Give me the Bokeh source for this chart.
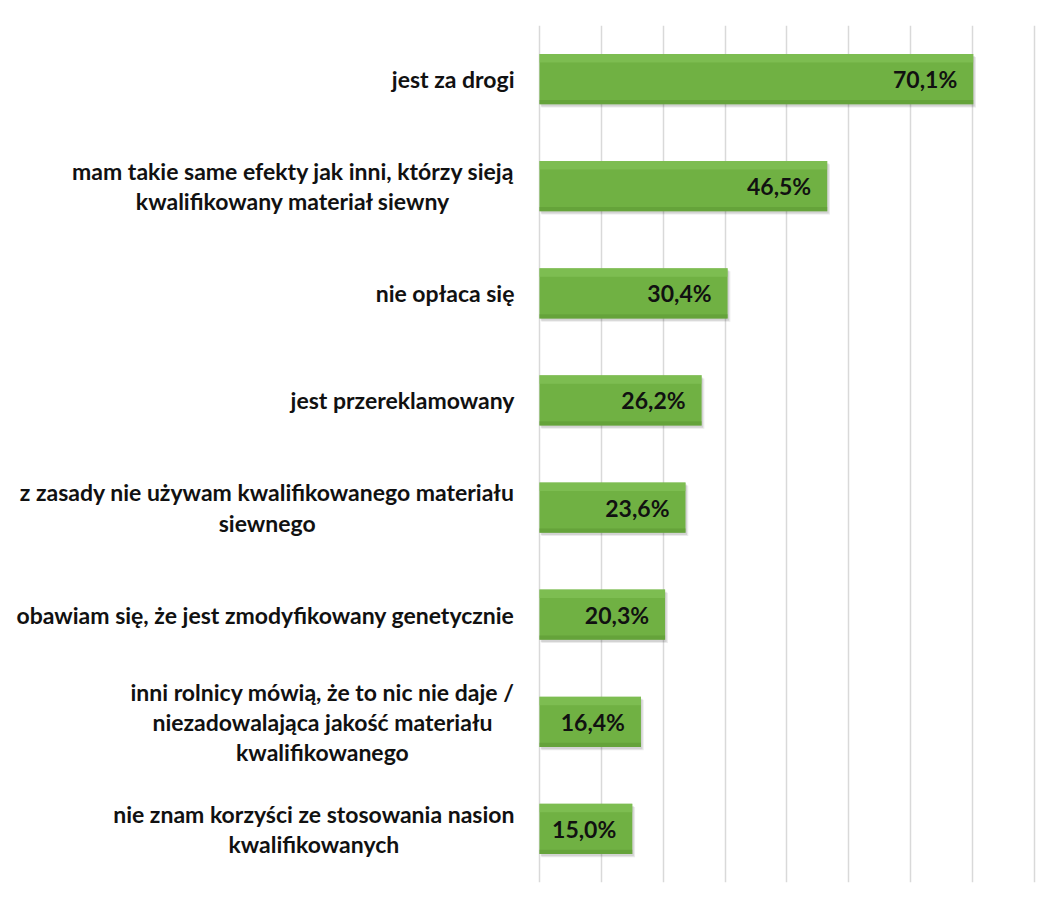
from bokeh.plotting import figure
from bokeh.models import ColumnDataSource, FactorRange, Range1d, FixedTicker
from bokeh.transform import dodge
from bokeh.embed import file_html
from bokeh.resources import INLINE
from bokeh.core.properties import value

categories = [
    "jest za drogi",
    "mam takie same efekty jak inni, którzy sieją\nkwalifikowany materiał siewny",
    "nie opłaca się",
    "jest przereklamowany",
    "z zasady nie używam kwalifikowanego materiału\nsiewnego",
    "obawiam się, że jest zmodyfikowany genetycznie",
    "inni rolnicy mówią, że to nic nie daje /\nniezadowalająca jakość materiału\nkwalifikowanego",
    "nie znam korzyści ze stosowania nasion\nkwalifikowanych",
]
values = [70.1, 46.5, 30.4, 26.2, 23.6, 20.3, 16.4, 15.0]
grid_ticks = [0, 10, 20, 30, 40, 50, 60, 70, 80]

labels = [f"{v:.1f}".replace(".", ",") + "%" for v in values]
zeros = [0] * len(values)
src = ColumnDataSource(dict(cat=categories, val=values, lab=labels, zero=zeros))

p = figure(
    width=1060, height=894,
    y_range=FactorRange(*reversed(categories)),
    x_range=Range1d(-87.1, 84.2),
    x_axis_location=None, y_axis_location=None,
    output_backend="svg", toolbar_location=None,
    min_border_left=0, min_border_right=0,
    min_border_top=25, min_border_bottom=12,
)
p.outline_line_color = None
p.xgrid.ticker = FixedTicker(ticks=grid_ticks)
p.xgrid.grid_line_color = "#d9d9d9"
p.xgrid.grid_line_width = 1.5
p.ygrid.grid_line_color = None

# shadow
p.hbar(y=dodge("cat", -0.03, range=p.y_range), left=0.3,
       right=dodge("val", 0.45), height=0.47, source=src,
       fill_color="#000000", fill_alpha=0.08, line_color=None)
p.hbar(y=dodge("cat", -0.02, range=p.y_range), left=0.2,
       right=dodge("val", 0.25), height=0.47, source=src,
       fill_color="#000000", fill_alpha=0.10, line_color=None)
# bars
p.hbar(y="cat", left=0, right="val", height=0.47, source=src,
       fill_color="#70b143", line_color=None)
p.hbar(y=dodge("cat", 0.195, range=p.y_range), left=0, right="val", height=0.08,
       source=src, fill_color="#86c45c", fill_alpha=0.6, line_color=None)
p.hbar(y=dodge("cat", -0.215, range=p.y_range), left=0, right="val", height=0.04,
       source=src, fill_color="#5e9a36", fill_alpha=0.6, line_color=None)

# value labels
p.text(x="val", y="cat", text="lab", source=src, x_offset=-16,
       text_align="right", text_baseline="middle",
       text_font=value("Lato"), text_font_style="bold",
       text_font_size="23px", text_color="#111111")

# category labels
p.text(x="zero", y="cat", text="cat", source=src, x_offset=-25,
       anchor="center_right", text_align="center", text_baseline="middle",
       text_font=value("Lato"), text_font_style="bold",
       text_font_size="23px", text_line_height=1.08, text_color="#111111")

open("out.html", "w").write(file_html(p, INLINE))
